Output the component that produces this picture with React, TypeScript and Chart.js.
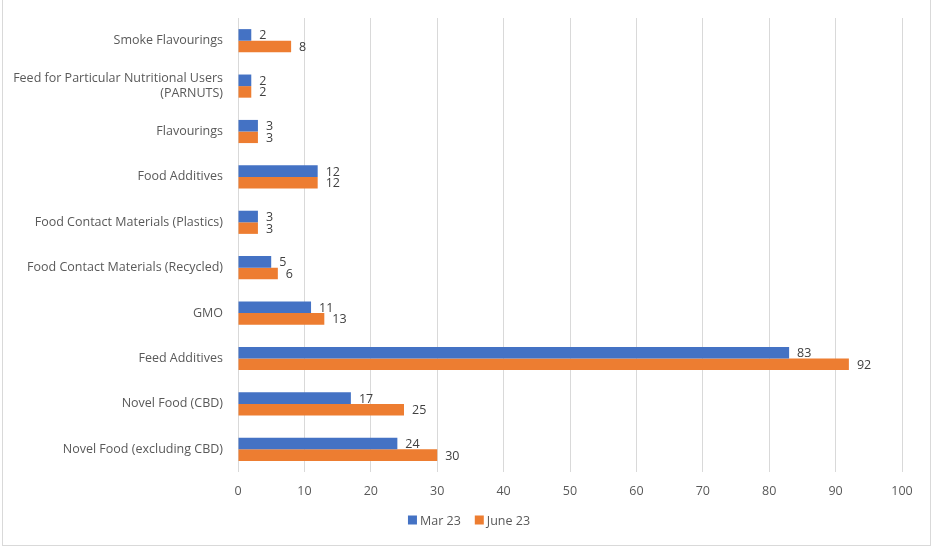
import React, { useEffect, useRef } from 'react';
import Chart from 'chart.js/auto';

const categories: (string | string[])[] = [
  'Smoke Flavourings',
  ['Feed for Particular Nutritional Users', '(PARNUTS)'],
  'Flavourings',
  'Food Additives',
  'Food Contact Materials (Plastics)',
  'Food Contact Materials (Recycled)',
  'GMO',
  'Feed Additives',
  'Novel Food (CBD)',
  'Novel Food (excluding CBD)',
];
const mar23 = [2, 2, 3, 12, 3, 5, 11, 83, 17, 24];
const june23 = [8, 2, 3, 12, 3, 6, 13, 92, 25, 30];

const FONT = '"Open Sans", "Noto Sans", sans-serif';

// value labels at the end of each bar
const barLabels = {
  id: 'barLabels',
  afterDatasetsDraw(chart: any) {
    const ctx = chart.ctx;
    ctx.save();
    ctx.font = `12.5px ${FONT}`;
    ctx.fillStyle = '#404040';
    ctx.textAlign = 'left';
    ctx.textBaseline = 'middle';
    chart.data.datasets.forEach((ds: any, i: number) => {
      const meta = chart.getDatasetMeta(i);
      meta.data.forEach((el: any, j: number) => {
        ctx.fillText(String(ds.data[j]), el.x + 8, el.y + 1);
      });
    });
    ctx.restore();
  },
};

// legend row under the axis, centred
const bottomLegend = {
  id: 'bottomLegend',
  afterDraw(chart: any) {
    const ctx = chart.ctx;
    const sets = chart.data.datasets;
    ctx.save();
    ctx.font = `12.5px ${FONT}`;
    ctx.textBaseline = 'middle';
    const box = 9, gap = 3, between = 14;
    const widths = sets.map((d: any) => box + gap + ctx.measureText(d.label).width);
    const total = widths.reduce((a: number, b: number) => a + b, 0) + between * (sets.length - 1);
    let x = chart.width / 2 + 3 - total / 2;
    const y = 520;
    sets.forEach((d: any, i: number) => {
      ctx.fillStyle = d.backgroundColor;
      ctx.fillRect(x, y - box / 2, box, box);
      ctx.fillStyle = '#595959';
      ctx.fillText(d.label, x + box + gap, y + 1);
      x += widths[i] + between;
    });
    ctx.restore();
  },
};

export default function App() {
  const canvasRef = useRef<HTMLCanvasElement | null>(null);
  const chartRef = useRef<Chart | null>(null);

  useEffect(() => {
    const ctx = canvasRef.current?.getContext('2d');
    if (!ctx) return;
    try { chartRef.current?.destroy(); } catch {}

    chartRef.current = new Chart(ctx, {
      type: 'bar',
      data: {
        labels: categories,
        datasets: [
          { label: 'Mar 23', data: mar23, backgroundColor: '#4472C4', categoryPercentage: 0.51, barPercentage: 1 },
          { label: 'June 23', data: june23, backgroundColor: '#ED7D31', categoryPercentage: 0.51, barPercentage: 1 },
        ],
      },
      options: {
        indexAxis: 'y',
        animation: false,
        responsive: false,
        maintainAspectRatio: false,
        layout: { padding: { left: 0, right: 30, top: 18, bottom: 39 } },
        scales: {
          x: {
            min: 0,
            max: 100,
            ticks: { stepSize: 10, color: '#595959', font: { family: FONT, size: 12.5 }, padding: 12 },
            grid: { color: '#d9d9d9', drawTicks: false },
            border: { display: false },
            afterFit: (s: any) => { s.height = 37; },
          },
          y: {
            ticks: { color: '#595959', font: { family: FONT, size: 12.5 }, padding: 15 },
            grid: { display: false, drawTicks: false },
            border: { display: false },
            afterFit: (s: any) => {
              s.width = 238;
              s.paddingTop = 0;
              s.paddingBottom = 0;
            },
          },
        },
        plugins: {
          legend: { display: false },
          tooltip: { enabled: false },
        },
      },
      plugins: [barLabels, bottomLegend],
    } as any);

    return () => {
      try { chartRef.current?.destroy(); } catch {}
      chartRef.current = null;
    };
  }, []);

  return (
    <div
      style={{
        position: 'fixed',
        left: 0,
        top: 0,
        width: 932,
        height: 548,
        background: '#fff',
      }}
    >
      <canvas ref={canvasRef} width={932} height={548} style={{ display: 'block' }} />
      <div
        style={{
          position: 'absolute',
          left: 2,
          top: 0,
          width: 927,
          height: 545,
          borderLeft: '1px solid #d9d9d9',
          borderRight: '1px solid #d9d9d9',
          borderBottom: '1px solid #d9d9d9',
          pointerEvents: 'none',
        }}
      />
    </div>
  );
}
